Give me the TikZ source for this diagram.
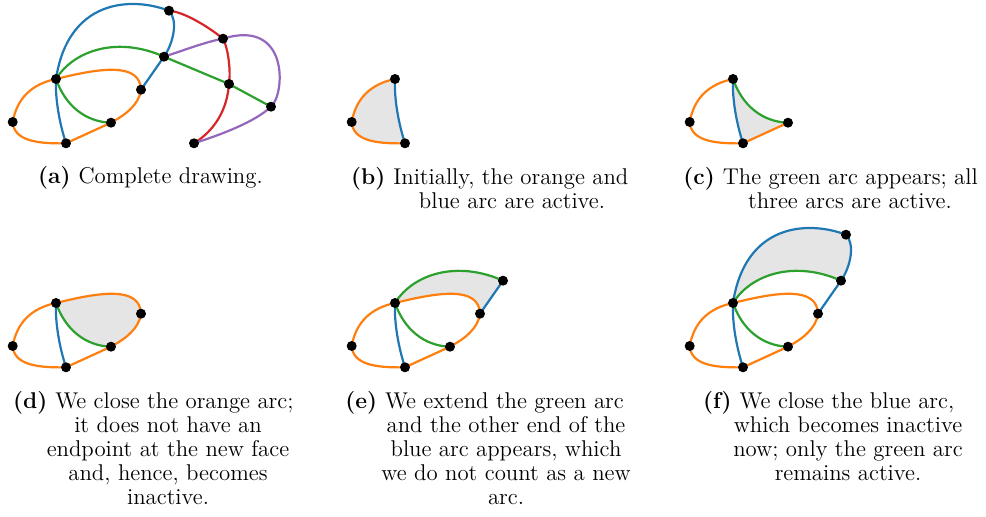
\documentclass[tikz,border=0pt]{standalone}
\usepackage{tikz}
\usetikzlibrary{positioning}
\definecolor{arcorange}{HTML}{FF7F0E}
\definecolor{arcblue}{HTML}{1F77B4}
\definecolor{arcgreen}{HTML}{2CA02C}
\definecolor{arcred}{HTML}{D62728}
\definecolor{arcpurple}{HTML}{9467BD}
\tikzset{
  edgeline/.style={line width=1.1pt, line cap=round, line join=round},
  orangeedge/.style={edgeline, draw=arcorange},
  blueedge/.style={edgeline, draw=arcblue},
  greenedge/.style={edgeline, draw=arcgreen},
  rededge/.style={edgeline, draw=arcred},
  purpleedge/.style={edgeline, draw=arcpurple},
  newface/.style={fill=gray!20},
  capfont/.style={font=\fontsize{11.4}{12}\selectfont},
  caplabel/.style={capfont, anchor=base west, inner sep=0pt},
  caprest/.style={capfont, anchor=base, align=center, inner sep=0pt},
}
% vertices of the complete drawing
\newcommand{\placevertices}{%
  \coordinate (A) at (12.7,122);
  \coordinate (B) at (56,79);
  \coordinate (C) at (66,143.3);
  \coordinate (D) at (111,122.7);
  \coordinate (E) at (141,89.7);
  \coordinate (F) at (164,56.7);
  \coordinate (G) at (169,10.7);
  \coordinate (H) at (223,38.7);
  \coordinate (I) at (229,84);
  \coordinate (J) at (271,106.7);
  \coordinate (K) at (194,143.3);
}
% curved arcs
\newcommand{\cAB}{.. controls (17,98) and (32,84) ..}
\newcommand{\cBE}{.. controls (100,68) and (140,62) ..}
\newcommand{\cEB}{.. controls (140,62) and (100,68) ..}
\newcommand{\cED}{.. controls (139,105) and (125,115) ..}
\newcommand{\cCA}{.. controls (35,144) and (14,140) ..}
\newcommand{\cCB}{.. controls (60,125) and (55,100) ..}
\newcommand{\cBC}{.. controls (55,100) and (60,125) ..}
\newcommand{\cBG}{.. controls (68,0) and (130,-4) ..}
\newcommand{\cGF}{.. controls (178,20) and (174,42) ..}
\newcommand{\cBF}{.. controls (74,50) and (118,36) ..}
\newcommand{\cFB}{.. controls (118,36) and (74,50) ..}
\newcommand{\cBD}{.. controls (65,105) and (85,122) ..}
\newcommand{\cDB}{.. controls (85,122) and (65,105) ..}
\newcommand{\cGH}{.. controls (185,12) and (210,28) ..}
\newcommand{\cHI}{.. controls (228,48) and (231,70) ..}
\newcommand{\cIK}{.. controls (227,110) and (215,130) ..}
\newcommand{\cFH}{.. controls (185,50) and (205,42) ..}
\newcommand{\cHJ}{.. controls (290,18) and (285,95) ..}
\newcommand{\cJK}{.. controls (255,122) and (220,135) ..}

\begin{document}
\begin{tikzpicture}[x=0.5pt, y=-0.5pt]
\useasboundingbox (0,0) rectangle (986,517);
% (a) complete drawing
\begin{scope}
  \placevertices
  \draw[orangeedge] (A) \cAB (B) \cBE (E) \cED (D) -- (C) \cCA (A);
  \draw[blueedge] (C) \cCB (B) \cBG (G) \cGF (F) -- (E);
  \draw[greenedge] (B) \cBF (F) -- (I) -- (J);
  \draw[greenedge] (B) \cBD (D);
  \draw[rededge] (G) \cGH (H) \cHI (I) \cIK (K);
  \draw[purpleedge] (F) \cFH (H) \cHJ (J) \cJK (K);
  \foreach \v in {A,...,K} \fill (\v) circle (2.5pt);
\end{scope}
% (b) start
\begin{scope}[shift={(339,0)}]
  \placevertices
  \fill[newface] (C) \cCA (A) \cAB (B) \cBC (C) -- cycle;
  \draw[orangeedge] (C) \cCA (A) \cAB (B);
  \draw[blueedge] (C) \cCB (B);
  \foreach \v in {A,B,C} \fill (\v) circle (2.5pt);
\end{scope}
% (c) green arc
\begin{scope}[shift={(677,0)}]
  \placevertices
  \fill[newface] (B) \cBD (D) -- (C) \cCB (B) -- cycle;
  \draw[orangeedge] (D) -- (C) \cCA (A) \cAB (B);
  \draw[blueedge] (C) \cCB (B);
  \draw[greenedge] (B) \cBD (D);
  \foreach \v in {A,...,D} \fill (\v) circle (2.5pt);
\end{scope}
% (d) orange closed
\begin{scope}[shift={(0,224)}]
  \placevertices
  \fill[newface] (B) \cBE (E) \cED (D) \cDB (B) -- cycle;
  \draw[orangeedge] (A) \cAB (B) \cBE (E) \cED (D) -- (C) \cCA (A);
  \draw[blueedge] (C) \cCB (B);
  \draw[greenedge] (B) \cBD (D);
  \foreach \v in {A,...,E} \fill (\v) circle (2.5pt);
\end{scope}
% (e) green extended
\begin{scope}[shift={(339,224)}]
  \placevertices
  \fill[newface] (B) \cBF (F) -- (E) \cEB (B) -- cycle;
  \draw[orangeedge] (A) \cAB (B) \cBE (E) \cED (D) -- (C) \cCA (A);
  \draw[blueedge] (C) \cCB (B);
  \draw[blueedge] (F) -- (E);
  \draw[greenedge] (B) \cBD (D);
  \draw[greenedge] (B) \cBF (F);
  \foreach \v in {A,...,F} \fill (\v) circle (2.5pt);
\end{scope}
% (f) blue closed
\begin{scope}[shift={(677,224)}]
  \placevertices
  \fill[newface] (B) \cBG (G) \cGF (F) \cFB (B) -- cycle;
  \draw[orangeedge] (A) \cAB (B) \cBE (E) \cED (D) -- (C) \cCA (A);
  \draw[blueedge] (C) \cCB (B) \cBG (G) \cGF (F) -- (E);
  \draw[greenedge] (B) \cBD (D);
  \draw[greenedge] (B) \cBF (F);
  \foreach \v in {A,...,G} \fill (\v) circle (2.5pt);
\end{scope}
% captions
\node[caplabel] (capa) at (37.7,184) {\textbf{(a)}\hspace{4pt}Complete drawing.};
\node[caplabel] (capb) at (350.7,185) {\textbf{(b)}\hspace{4pt}Initially, the orange and};
\node[caprest] (capb2) at (512,209) {blue arc are active.};
\node[caplabel] (capc) at (683,185) {\textbf{(c)}\hspace{4pt}The green arc appears; all};
\node[caprest] (capc2) at (850,209) {three arcs are active.};
\node[caplabel] (capd) at (12.7,409) {\textbf{(d)}\hspace{4pt}We close the orange arc;};
\node[caprest] (capd2) at (168,505) {it does not have an\\endpoint at the new face\\and, hence, becomes\\inactive.};
\node[caplabel] (cape) at (345,409) {\textbf{(e)}\hspace{4pt}We extend the green arc};
\node[caprest] (cape2) at (506,505) {and the other end of the\\blue arc appears, which\\we do not count as a new\\arc.};
\node[caplabel] (capf) at (702.7,409) {\textbf{(f)}\hspace{4pt}We close the blue arc,};
\node[caprest] (capf2) at (848,481) {which becomes inactive\\now; only the green arc\\remains active.};
\end{tikzpicture}
\end{document}
